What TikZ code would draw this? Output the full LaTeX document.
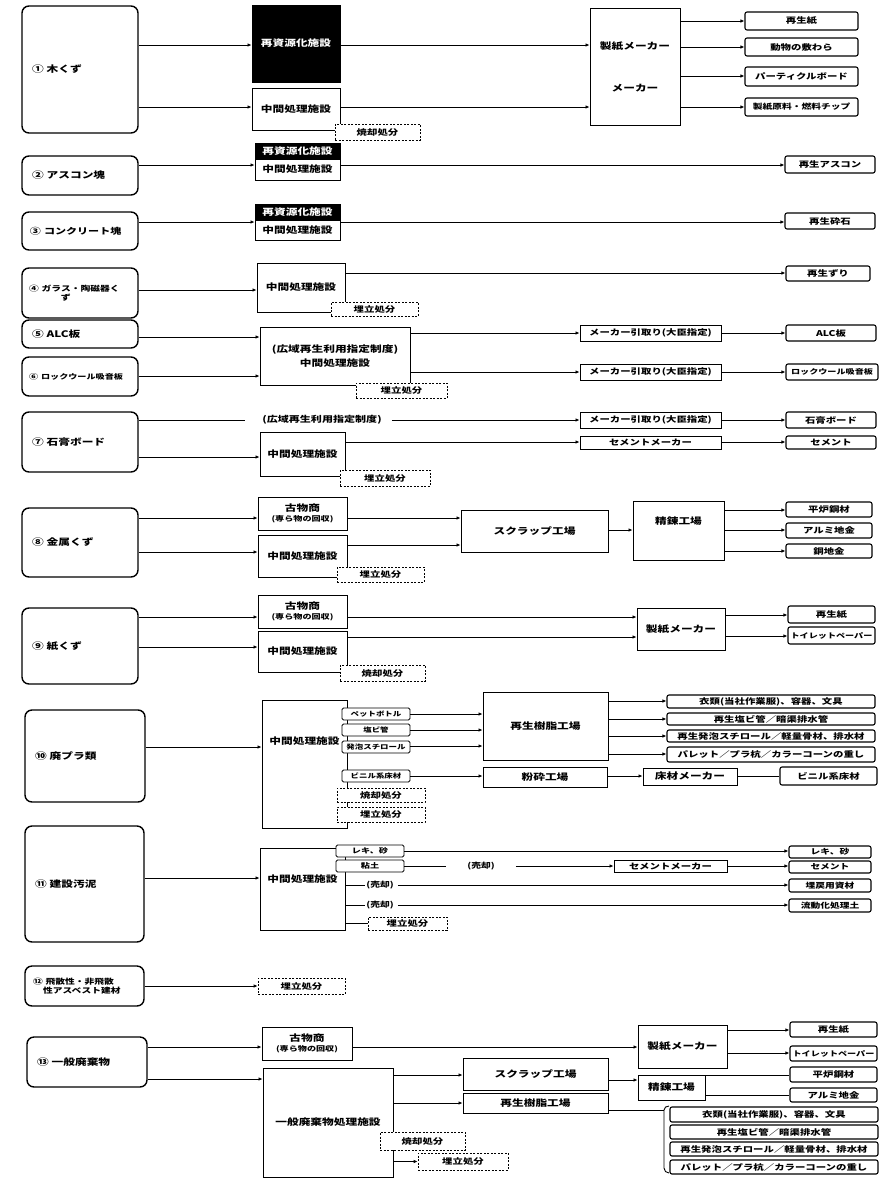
\documentclass[tikz,border=0pt]{standalone}
\usepackage{fontspec}
\newfontfamily\jp{Noto Sans CJK JP}[FakeStretch=1.3]
\usetikzlibrary{arrows.meta}
\newcommand\bx[7]{\node[#2, minimum width={(#5-#3)*1pt}, minimum height={(#6-#4)*1pt}] (#1) at ({(#3+#5)/2},{(#4+#6)/2}) {#7};}
\newcommand\sbx[7]{\node[src, inner xsep=#6pt, minimum height={(#5-#3)*1pt}, text width={(#4-#2-2*#6)*1pt}] (#1) at ({(#2+#4)/2},{(#3+#5)/2}) {#7};}
\newcommand\harr[3]{\draw[arr] (#1.east |- 0,#3) -- (#2.west |- 0,#3);}
\newcommand\hln[3]{\draw[ln] (#1.east |- 0,#3) -- (#2.west |- 0,#3);}
\newcommand\fs[1]{\fontsize{#1}{#1}\selectfont}
\tikzset{
  every node/.style={font=\jp\bfseries\fs{9}, inner sep=0pt},
  bxs/.style={draw, line width=0.9pt, align=center},
  blk/.style={draw, fill=black, text=white, line width=0.9pt, align=center},
  src/.style={draw, line width=1.4pt, rounded corners=7pt, inner ysep=0pt, align=left},
  outb/.style={draw, line width=1.1pt, rounded corners=2pt, align=center, font=\jp\bfseries\fs{8}},
  sub/.style={draw, fill=white, line width=0.8pt, rounded corners=1.5pt, font=\jp\bfseries\fs{6.5}},
  dsh/.style={draw, dashed, dash pattern=on 2pt off 1.5pt, line width=0.6pt, fill=white, font=\jp\bfseries\fs{8}},
  lbl/.style={inner xsep=1pt, font=\jp\bfseries\fs{7.5}},
  arr/.style={-{Latex[length=4pt,width=3.5pt]}, line width=0.9pt},
  ln/.style={line width=0.9pt},
  sm/.style={font=\jp\bfseries\fs{8}}
}
\begin{document}
\begin{tikzpicture}[x=1pt,y=-1pt]
\useasboundingbox (0,0) rectangle (887,1184);
\fill[white] (0,0) rectangle (887,1184);

% ---------- Row 1
\sbx{s1}{22}{6}{138}{133}{10}{① 木くず}
\bx{r1}{blk}{252}{5}{340}{82}{再資源化施設}
\bx{m1}{bxs}{252}{88}{340}{130}{中間処理施設}
\bx{d1}{dsh}{335}{124}{420}{140}{焼却処分}
\bx{k1}{bxs}{590}{8}{680}{125}{製紙メーカー\\[33pt]メーカー}
\bx{o1a}{outb}{745}{12}{858}{30}{再生紙}
\bx{o1b}{outb}{745}{38}{858}{56}{動物の敷わら}
\bx{o1c}{outb}{745}{67}{858}{86}{パーティクルボード}
\bx{o1d}{outb,font=\jp\bfseries\fs{7.5}}{745}{98}{858}{116}{製紙原料・燃料チップ}
\harr{s1}{r1}{45}
\harr{s1}{m1}{107}
\harr{r1}{k1}{45}
\harr{m1}{k1}{107}
\harr{k1}{o1a}{21}
\harr{k1}{o1b}{47}
\harr{k1}{o1c}{76}
\harr{k1}{o1d}{107}

% ---------- Row 2
\sbx{s2}{22}{156}{138}{195}{10}{② アスコン塊}
\bx{r2}{blk}{255}{143}{340}{159}{再資源化施設}
\bx{m2}{bxs}{255}{159}{340}{180}{中間処理施設}
\bx{o2}{outb}{785}{156}{875}{173}{再生アスコン}
\harr{s2}{m2}{165}
\harr{m2}{o2}{165}

% ---------- Row 3
\sbx{s3}{22}{212}{138}{250}{8}{\fs{8.5}③ コンクリート塊}
\bx{r3}{blk}{255}{204}{340}{220}{再資源化施設}
\bx{m3}{bxs}{255}{220}{340}{240}{中間処理施設}
\bx{o3}{outb}{785}{213}{875}{229}{再生砕石}
\harr{s3}{m3}{222}
\harr{m3}{o3}{222}

% ---------- Row 4
\sbx{s4}{22}{268}{138}{318}{7}{\fs{7.5}④ ガラス・陶磁器く\\\hspace*{32pt}ず}
\bx{m4}{bxs}{257}{263}{345}{312}{中間処理施設}
\bx{o4}{outb}{786}{266}{870}{281}{再生ずり}
\bx{d4}{dsh}{331}{302}{418}{316}{埋立処分}
\harr{s4}{m4}{290}
\harr{m4}{o4}{273}

% ---------- Row 5/6
\sbx{s5}{22}{320}{138}{348}{10}{⑤ ALC板}
\sbx{s6}{22}{357}{138}{396}{7}{\fs{7}⑥ ロックウール吸音板}
\bx{b56}{bxs}{260}{327}{410}{385}{(広域再生利用指定制度)\\[3pt]中間処理施設}
\bx{k5}{bxs,sm}{580}{325}{721}{341}{メーカー引取り(大臣指定)}
\bx{k6}{bxs,sm}{580}{364}{721}{380}{メーカー引取り(大臣指定)}
\bx{o5}{outb}{786}{325}{876}{341}{ALC板}
\bx{o6}{outb,font=\jp\bfseries\fs{7}}{786}{364}{878}{380}{ロックウール吸音板}
\bx{d56}{dsh}{356}{383}{447}{398}{埋立処分}
\harr{s5}{b56}{337}
\harr{s6}{b56}{376}
\harr{b56}{k5}{333}
\harr{b56}{k6}{372}
\harr{k5}{o5}{333}
\harr{k6}{o6}{372}

% ---------- Row 7
\sbx{s7}{22}{412}{138}{472}{10}{⑦ 石膏ボード}
\node[lbl,font=\jp\bfseries\fs{8.5}] (kw7) at (322,420) {(広域再生利用指定制度)};
\bx{k7}{bxs,sm}{580}{412}{721}{428}{メーカー引取り(大臣指定)}
\bx{o7a}{outb}{786}{412}{876}{428}{石膏ボード}
\bx{m7}{bxs}{260}{432}{345}{476}{中間処理施設}
\bx{c7}{bxs,sm}{580}{436}{721}{449}{セメントメーカー}
\bx{o7b}{outb}{786}{436}{876}{449}{セメント}
\bx{d7}{dsh}{340}{470}{430}{486}{埋立処分}
\draw[ln, shorten >=16pt] (s7.east |- kw7) -- (kw7.west);
\draw[arr, shorten <=9pt] (kw7.east) -- (k7.west |- kw7);
\harr{k7}{o7a}{420}
\harr{s7}{m7}{457}
\harr{m7}{c7}{442}
\harr{c7}{o7b}{442}

% ---------- Row 8
\sbx{s8}{22}{508}{138}{577}{10}{⑧ 金属くず}
\bx{f8}{bxs}{258}{497}{347}{530}{古物商\\[1pt]{\fs{7}(専ら物の回収)}}
\bx{m8}{bxs}{258}{535}{347}{577}{中間処理施設}
\bx{sc8}{bxs}{461}{510}{608}{552}{スクラップ工場}
\bx{sr8}{bxs}{633}{501}{724}{560}{\raisebox{6pt}[0pt][0pt]{精錬工場}}
\bx{o8a}{outb}{786}{502}{872}{517}{平炉鋼材}
\bx{o8b}{outb}{786}{523}{872}{538}{アルミ地金}
\bx{o8c}{outb}{786}{544}{872}{558}{銅地金}
\bx{d8}{dsh}{337}{567}{424}{582}{埋立処分}
\harr{s8}{f8}{518}
\harr{s8}{m8}{552}
\harr{f8}{sc8}{518}
\harr{m8}{sc8}{545}
\harr{sc8}{sr8}{530}
\harr{sr8}{o8a}{510}
\harr{sr8}{o8b}{530}
\harr{sr8}{o8c}{551}

% ---------- Row 9
\sbx{s9}{22}{608}{138}{684}{10}{⑨ 紙くず}
\bx{f9}{bxs}{258}{595}{347}{628}{古物商\\[1pt]{\fs{7}(専ら物の回収)}}
\bx{m9}{bxs}{258}{631}{347}{672}{中間処理施設}
\bx{sp9}{bxs}{637}{608}{725}{650}{製紙メーカー}
\bx{o9a}{outb}{788}{606}{875}{623}{再生紙}
\bx{o9b}{outb,font=\jp\bfseries\fs{7}}{788}{627}{875}{644}{トイレットペーパー}
\bx{d9}{dsh}{340}{665}{425}{681}{焼却処分}
\harr{s9}{f9}{617}
\harr{s9}{m9}{647}
\harr{f9}{sp9}{617}
\harr{m9}{sp9}{637}
\harr{sp9}{o9a}{615}
\harr{sp9}{o9b}{636}

% ---------- Row 10
\sbx{s10}{25}{710}{145}{802}{10}{⑩ 廃プラ類}
\bx{m10}{bxs}{262}{700}{347}{828}{\raisebox{20pt}[0pt][0pt]{中間処理施設}}
\bx{p10a}{sub}{342}{708}{410}{720}{ペットボトル}
\bx{p10b}{sub}{342}{724}{410}{736}{塩ビ管}
\bx{p10c}{sub}{342}{741}{410}{753}{発泡スチロール}
\bx{p10d}{sub}{342}{770}{410}{782}{ビニル系床材}
\bx{d10a}{dsh}{337}{788}{425}{802}{焼却処分}
\bx{d10b}{dsh}{337}{807}{425}{822}{埋立処分}
\bx{r10}{bxs}{483}{692}{608}{760}{再生樹脂工場}
\bx{g10}{bxs}{483}{767}{607}{787}{粉砕工場}
\bx{y10}{bxs}{643}{768}{737}{785}{床材メーカー}
\bx{o10e}{outb}{780}{767}{877}{785}{ビニル系床材}
\bx{o10a}{outb}{667}{695}{875}{708}{衣類(当社作業服)、容器、文具}
\bx{o10b}{outb}{667}{713}{875}{725}{再生塩ビ管／暗渠排水管}
\bx{o10c}{outb}{667}{730}{875}{742}{再生発泡スチロール／軽量骨材、排水材}
\bx{o10d}{outb}{667}{747}{875}{762}{パレット／プラ杭／カラーコーンの重し}
\harr{s10}{m10}{747}
\harr{p10a}{r10}{714}
\harr{p10b}{r10}{730}
\harr{p10c}{r10}{746}
\harr{p10d}{g10}{776}
\harr{g10}{y10}{776}
\hln{y10}{o10e}{776}
\harr{r10}{o10a}{701}
\harr{r10}{o10b}{719}
\harr{r10}{o10c}{736}
\harr{r10}{o10d}{754}

% ---------- Row 11
\sbx{s11}{25}{826}{144}{942}{10}{⑪ 建設汚泥}
\bx{m11}{bxs}{260}{848}{345}{930}{\raisebox{7pt}[0pt][0pt]{中間処理施設}}
\bx{q11a}{sub,font=\jp\bfseries\fs{7}}{336}{845}{404}{857}{レキ、砂}
\bx{q11b}{sub,font=\jp\bfseries\fs{7}}{336}{860}{404}{872}{粘土}
\node[lbl] (u11a) at (380,885) {(売却)};
\node[lbl] (u11b) at (380,905) {(売却)};
\node[lbl] (u11c) at (481,866) {(売却)};
\bx{c11}{bxs,sm}{614}{860}{727}{872}{セメントメーカー}
\bx{o11a}{outb,font=\jp\bfseries\fs{7.5}}{789}{846}{871}{858}{レキ、砂}
\bx{o11b}{outb,font=\jp\bfseries\fs{7.5}}{789}{861}{871}{873}{セメント}
\bx{o11c}{outb,font=\jp\bfseries\fs{7.5}}{789}{879}{871}{892}{埋戻用資材}
\bx{o11d}{outb,font=\jp\bfseries\fs{7.5}}{789}{899}{871}{912}{流動化処理土}
\bx{d11}{dsh}{368}{917}{447}{930}{埋立処分}
\harr{s11}{m11}{878}
\harr{q11a}{o11a}{851}
\draw[ln, shorten >=20pt] (q11b.east) -- (u11c.west |- q11b.east);
\draw[arr, shorten <=20pt] (u11c.east) -- (c11.west |- u11c.east);
\harr{c11}{o11b}{866}
\draw[ln] (m11.east |- u11a) -- (u11a.west);
\draw[arr, shorten <=3pt] (u11a.east) -- (o11c.west |- u11a.east);
\draw[ln] (m11.east |- u11b) -- (u11b.west);
\draw[arr, shorten <=3pt] (u11b.east) -- (o11d.west |- u11b.east);
\draw[ln] (m11.east |- d11) -- (d11.west);

% ---------- Row 12
\sbx{s12}{25}{966}{144}{1006}{8}{\fs{7.5}⑫ 飛散性・非飛散\\\hspace*{10pt}性アスベスト建材}
\bx{d12}{dsh}{258}{978}{345}{994}{埋立処分}
\harr{s12}{d12}{986}

% ---------- Row 13
\sbx{s13}{27}{1037}{147}{1087}{10}{⑬ 一般廃棄物}
\bx{f13}{bxs}{262}{1027}{352}{1060}{古物商\\[1pt]{\fs{7}(専ら物の回収)}}
\bx{m13}{bxs}{263}{1068}{393}{1177}{一般廃棄物処理施設}
\bx{k13}{bxs}{638}{1025}{727}{1068}{製紙メーカー}
\bx{o13a}{outb}{790}{1022}{877}{1037}{再生紙}
\bx{o13b}{outb,font=\jp\bfseries\fs{7}}{790}{1046}{877}{1061}{トイレットペーパー}
\bx{sc13}{bxs}{463}{1058}{608}{1090}{スクラップ工場}
\bx{r13}{bxs}{463}{1093}{608}{1113}{再生樹脂工場}
\bx{sr13}{bxs}{638}{1075}{705}{1100}{精錬工場}
\bx{o13c}{outb}{790}{1067}{877}{1082}{平炉鋼材}
\bx{o13d}{outb}{790}{1088}{877}{1102}{アルミ地金}
\bx{d13a}{dsh}{380}{1132}{465}{1150}{焼却処分}
\bx{d13b}{dsh}{418}{1153}{508}{1170}{埋立処分}
\bx{o13e}{outb}{670}{1107}{878}{1122}{衣類(当社作業服)、容器、文具}
\bx{o13f}{outb}{670}{1125}{878}{1139}{再生塩ビ管／暗渠排水管}
\bx{o13g}{outb}{670}{1142}{878}{1156}{再生発泡スチロール／軽量骨材、排水材}
\bx{o13h}{outb}{670}{1160}{878}{1174}{パレット／プラ杭／カラーコーンの重し}
\harr{s13}{f13}{1047}
\harr{s13}{m13}{1079}
\harr{f13}{k13}{1047}
\harr{k13}{o13a}{1030}
\harr{k13}{o13b}{1053}
\harr{m13}{sc13}{1075}
\harr{m13}{r13}{1103}
\harr{sc13}{sr13}{1080}
\hln{sr13}{o13c}{1075}
\hln{sr13}{o13d}{1095}
\draw[arr] (m13.east |- d13b) -- (d13b.west);
\coordinate (bk) at (664,1110);
\draw[ln] (r13.east |- bk) -- (bk);
\draw[ln] (669,1106) to[out=180,in=90] (bk) -- (664,1168) to[out=-90,in=180] (669,1173);
\end{tikzpicture}
\end{document}
